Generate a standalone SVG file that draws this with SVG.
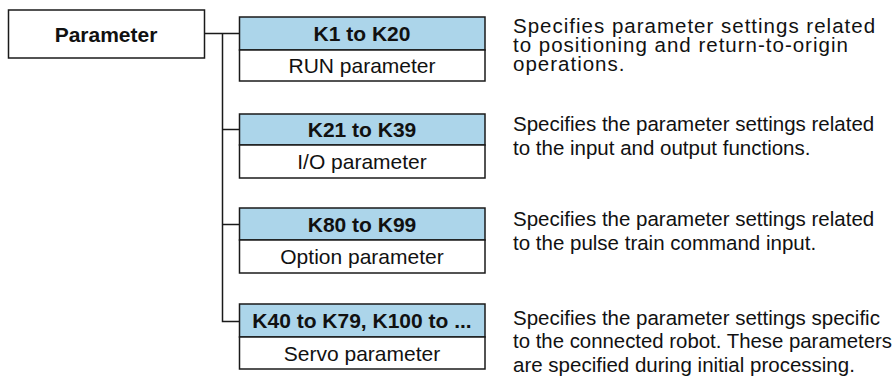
<svg xmlns="http://www.w3.org/2000/svg" width="896" height="378" viewBox="0 0 896 378">
  <style>
    .box { fill: #ffffff; stroke: #1a1a1a; stroke-width: 1.5; }
    .head { fill: #acd5ea; stroke: #1a1a1a; stroke-width: 1.5; }
    .wire { fill: none; stroke: #1a1a1a; stroke-width: 1.5; }
    text { font-family: "Liberation Sans", Arial, Helvetica, sans-serif; font-size: 21px; fill: #111; }
    .bold { font-weight: bold; text-anchor: middle; }
    .label { text-anchor: middle; }
    .desc { font-size: 20.5px; }
    .spaced { letter-spacing: 1px; }
  </style>

  <!-- tree connectors from the root box to each parameter group -->
  <g id="connectors">
    <path class="wire" d="M204,33.5 H239.5"/>
    <path class="wire" d="M222.5,33.5 V321.5 H239.5"/>
    <path class="wire" d="M222.5,129.5 H239.5"/>
    <path class="wire" d="M222.5,224.5 H239.5"/>
  </g>

  <!-- root -->
  <g id="parameter">
    <rect class="box" x="8.5" y="10" width="196" height="48"/>
    <text class="bold" x="106" y="41.5">Parameter</text>
  </g>

  <!-- RUN parameter -->
  <g id="run-parameter">
    <rect class="head" x="239.5" y="17" width="245.5" height="33"/>
    <rect class="box" x="239.5" y="50" width="245.5" height="31"/>
    <text class="bold" x="362" y="41">K1 to K20</text>
    <text class="label" x="362" y="73">RUN parameter</text>
    <text class="desc spaced" x="513" y="33">Specifies parameter settings related</text>
    <text class="desc spaced" x="513" y="52">to positioning and return-to-origin</text>
    <text class="desc spaced" x="513" y="71">operations.</text>
  </g>

  <!-- I/O parameter -->
  <g id="io-parameter">
    <rect class="head" x="239.5" y="114" width="245.5" height="31"/>
    <rect class="box" x="239.5" y="145" width="245.5" height="33"/>
    <text class="bold" x="362" y="137">K21 to K39</text>
    <text class="label" x="362" y="169">I/O parameter</text>
    <text class="desc" x="513" y="130.5">Specifies the parameter settings related</text>
    <text class="desc" x="513" y="154.5">to the input and output functions.</text>
  </g>

  <!-- Option parameter -->
  <g id="option-parameter">
    <rect class="head" x="239.5" y="208" width="245.5" height="32"/>
    <rect class="box" x="239.5" y="240" width="245.5" height="33"/>
    <text class="bold" x="362" y="231.5">K80 to K99</text>
    <text class="label" x="362" y="264">Option parameter</text>
    <text class="desc" x="513" y="225.5">Specifies the parameter settings related</text>
    <text class="desc" x="513" y="249.5">to the pulse train command input.</text>
  </g>

  <!-- Servo parameter -->
  <g id="servo-parameter">
    <rect class="head" x="239.5" y="304" width="245.5" height="33"/>
    <rect class="box" x="239.5" y="337" width="245.5" height="32"/>
    <text class="bold" x="362" y="328">K40 to K79, K100 to ...</text>
    <text class="label" x="362" y="360.5">Servo parameter</text>
    <text class="desc" x="513" y="324.5">Specifies the parameter settings specific</text>
    <text class="desc" x="513" y="348" textLength="379" lengthAdjust="spacingAndGlyphs">to the connected robot. These parameters</text>
    <text class="desc" x="513" y="371.5">are specified during initial processing.</text>
  </g>
</svg>
